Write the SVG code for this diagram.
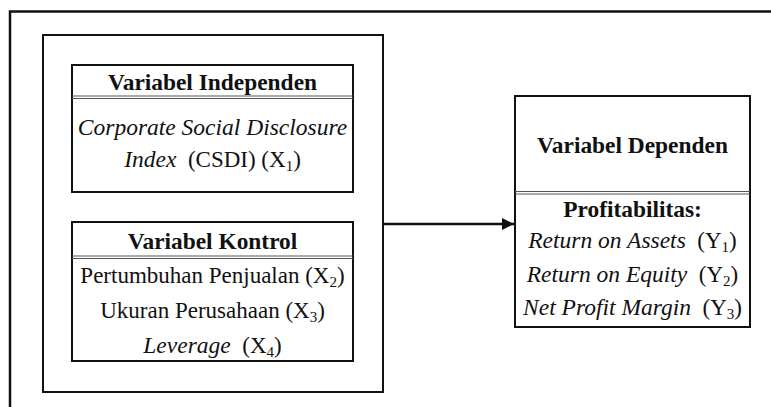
<svg xmlns="http://www.w3.org/2000/svg" width="771" height="407" viewBox="0 0 771 407" font-family="'Liberation Serif', 'DejaVu Serif', serif">
<defs>
<style>
.box{fill:#fff;stroke:#111;stroke-width:2}
.sep{stroke:#555;stroke-width:1}
text{font-family:'Liberation Serif','DejaVu Serif',serif;font-size:23px;fill:#111;text-anchor:middle}
.b{font-weight:bold;font-size:23.4px}
.i{font-style:italic;font-size:23.5px}
.sub{font-size:15px}
</style>
<marker id="ah" viewBox="0 0 10 10" refX="10" refY="5" markerWidth="5" markerHeight="5" orient="auto" markerUnits="strokeWidth">
<path d="M0,0 L10,5 L0,10 z" fill="#111"/>
</marker>
</defs>
<rect width="771" height="407" fill="#fff"/>
<g id="frame">
<path d="M10,407 V11.5 H771" fill="none" stroke="#111" stroke-width="2.5"/>
</g>
<g id="container">
<rect class="box" x="43" y="35" width="340" height="357"/>
</g>
<g id="independen">
<rect class="box" x="72" y="65" width="281" height="127"/>
<line class="sep" x1="72" y1="96" x2="353" y2="96"/>
<line class="sep" x1="72" y1="98.5" x2="353" y2="98.5"/>
<text class="b" x="212.5" y="90">Variabel Independen</text>
<text class="i" x="212.5" y="135">Corporate Social Disclosure</text>
<text x="212.5" y="167" xml:space="preserve"><tspan class="i">Index</tspan>  (CSDI) (X<tspan class="sub" dy="4">1</tspan><tspan dy="-4">)</tspan></text>
</g>
<g id="kontrol">
<rect class="box" x="72" y="222" width="281" height="139"/>
<line class="sep" x1="72" y1="256" x2="353" y2="256"/>
<line class="sep" x1="72" y1="258.5" x2="353" y2="258.5"/>
<text class="b" x="212.5" y="249">Variabel Kontrol</text>
<text x="212.5" y="283">Pertumbuhan Penjualan (X<tspan class="sub" dy="4">2</tspan><tspan dy="-4">)</tspan></text>
<text x="212.5" y="318">Ukuran Perusahaan (X<tspan class="sub" dy="4">3</tspan><tspan dy="-4">)</tspan></text>
<text x="212.5" y="353" xml:space="preserve"><tspan class="i">Leverage</tspan>  (X<tspan class="sub" dy="4">4</tspan><tspan dy="-4">)</tspan></text>
</g>
<g id="dependen">
<rect class="box" x="515" y="96" width="235" height="231"/>
<line class="sep" x1="515" y1="191.5" x2="750" y2="191.5"/>
<line class="sep" x1="515" y1="194" x2="750" y2="194"/>
<text class="b" x="632.5" y="153">Variabel Dependen</text>
<text class="b" x="632.5" y="217">Profitabilitas:</text>
<text x="632.5" y="248" xml:space="preserve"><tspan class="i">Return on Assets</tspan>  (Y<tspan class="sub" dy="4">1</tspan><tspan dy="-4">)</tspan></text>
<text x="632.5" y="282" xml:space="preserve"><tspan class="i">Return on Equity</tspan>  (Y<tspan class="sub" dy="4">2</tspan><tspan dy="-4">)</tspan></text>
<text x="632.5" y="315" xml:space="preserve"><tspan class="i">Net Profit Margin</tspan>  (Y<tspan class="sub" dy="4">3</tspan><tspan dy="-4">)</tspan></text>
</g>
<g id="connectors">
<line x1="384" y1="224" x2="514" y2="224" stroke="#111" stroke-width="2.5" marker-end="url(#ah)"/>
</g>
</svg>
